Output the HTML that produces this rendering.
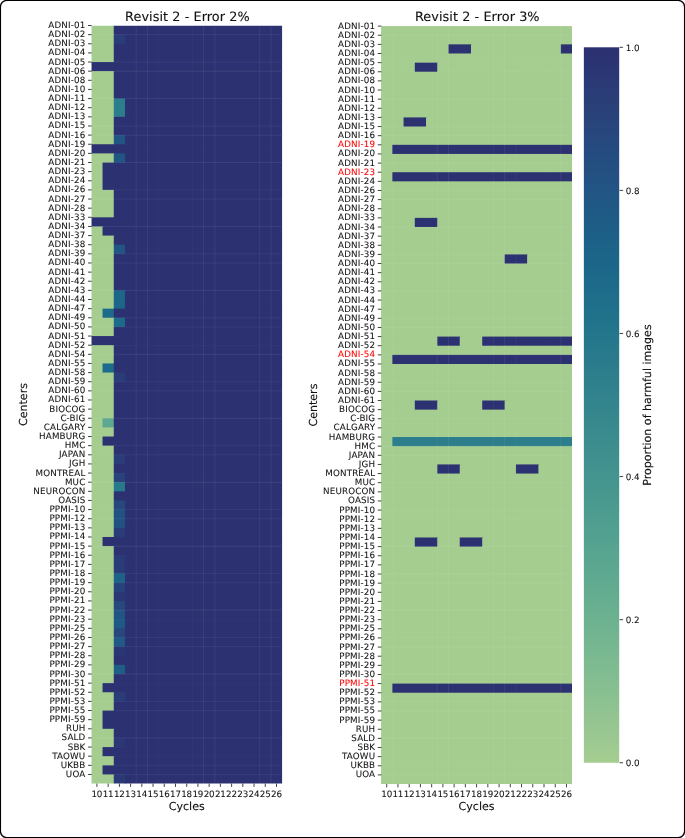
<!DOCTYPE html>
<html lang="en">
<head>
<meta charset="utf-8">
<title>Revisit 2 - harmful images heatmaps</title>
<style>
html,body{margin:0;padding:0;background:#ffffff;}
body{width:685px;height:838px;overflow:hidden;}
svg{display:block;}
svg{will-change:transform;}
text{fill:#111111;text-rendering:geometricPrecision;}
.tk line{stroke:#111111;stroke-width:0.8;}
.tl text{font-size:8.74px;letter-spacing:0.15px;}
.xt text{letter-spacing:-0.15px;}
.cbt text{letter-spacing:0;}
.tl text{stroke-width:0.06px;}
text{stroke:#111111;stroke-width:0.12px;}
.tl text.red{stroke:#ff0000;}
.lab{font-size:11.07px;}
.ttl{font-size:12.82px;letter-spacing:0.07px;}
.tl text.red{fill:#ff0000;}
</style>
</head>
<body>
<svg width="685" height="838" viewBox="0 0 685 838" font-family="'DejaVu Sans', 'Liberation Sans', sans-serif">
<rect x="0" y="0" width="685" height="838" fill="#ffffff"/>
<rect x="0.4" y="0.4" width="684.2" height="837.2" rx="6.5" ry="6.5" fill="#ffffff" stroke="#000000" stroke-width="1.3"/>
<clipPath id="hc1"><rect x="91.32" y="25.50" width="190.78" height="758.10"/></clipPath>
<g clip-path="url(#hc1)">
<rect x="91.32" y="25.50" width="23.14" height="9.83" fill="#a5cd90"/>
<rect x="113.76" y="25.50" width="169.04" height="9.83" fill="#2c3172"/>
<rect x="91.32" y="34.63" width="23.14" height="9.83" fill="#a5cd90"/>
<rect x="113.76" y="34.63" width="11.92" height="9.83" fill="#2a3d78"/>
<rect x="124.99" y="34.63" width="157.81" height="9.83" fill="#2c3172"/>
<rect x="91.32" y="43.77" width="23.14" height="18.97" fill="#a5cd90"/>
<rect x="113.76" y="43.77" width="169.04" height="18.97" fill="#2c3172"/>
<rect x="91.32" y="62.03" width="191.48" height="9.83" fill="#2c3172"/>
<rect x="91.32" y="71.17" width="23.14" height="28.10" fill="#a5cd90"/>
<rect x="113.76" y="71.17" width="169.04" height="28.10" fill="#2c3172"/>
<rect x="91.32" y="98.57" width="23.14" height="18.97" fill="#a5cd90"/>
<rect x="113.76" y="98.57" width="11.92" height="18.97" fill="#2c7e8c"/>
<rect x="124.99" y="98.57" width="157.81" height="18.97" fill="#2c3172"/>
<rect x="91.32" y="116.84" width="23.14" height="18.97" fill="#a5cd90"/>
<rect x="113.76" y="116.84" width="169.04" height="18.97" fill="#2c3172"/>
<rect x="91.32" y="135.10" width="23.14" height="9.83" fill="#a5cd90"/>
<rect x="113.76" y="135.10" width="11.92" height="9.83" fill="#215584"/>
<rect x="124.99" y="135.10" width="157.81" height="9.83" fill="#2c3172"/>
<rect x="91.32" y="144.24" width="191.48" height="9.83" fill="#2c3172"/>
<rect x="91.32" y="153.37" width="23.14" height="9.83" fill="#a5cd90"/>
<rect x="113.76" y="153.37" width="11.92" height="9.83" fill="#215584"/>
<rect x="124.99" y="153.37" width="157.81" height="9.83" fill="#2c3172"/>
<rect x="91.32" y="162.51" width="11.92" height="28.10" fill="#a5cd90"/>
<rect x="102.54" y="162.51" width="180.26" height="28.10" fill="#2c3172"/>
<rect x="91.32" y="189.91" width="23.14" height="28.10" fill="#a5cd90"/>
<rect x="113.76" y="189.91" width="169.04" height="28.10" fill="#2c3172"/>
<rect x="91.32" y="217.31" width="191.48" height="9.83" fill="#2c3172"/>
<rect x="91.32" y="226.44" width="11.92" height="9.83" fill="#a5cd90"/>
<rect x="102.54" y="226.44" width="180.26" height="9.83" fill="#2c3172"/>
<rect x="91.32" y="235.58" width="23.14" height="9.83" fill="#a5cd90"/>
<rect x="113.76" y="235.58" width="169.04" height="9.83" fill="#2c3172"/>
<rect x="91.32" y="244.71" width="23.14" height="9.83" fill="#a5cd90"/>
<rect x="113.76" y="244.71" width="11.92" height="9.83" fill="#215584"/>
<rect x="124.99" y="244.71" width="157.81" height="9.83" fill="#2c3172"/>
<rect x="91.32" y="253.84" width="23.14" height="37.23" fill="#a5cd90"/>
<rect x="113.76" y="253.84" width="169.04" height="37.23" fill="#2c3172"/>
<rect x="91.32" y="290.38" width="23.14" height="18.97" fill="#a5cd90"/>
<rect x="113.76" y="290.38" width="11.92" height="18.97" fill="#1c6689"/>
<rect x="124.99" y="290.38" width="157.81" height="18.97" fill="#2c3172"/>
<rect x="91.32" y="308.65" width="11.92" height="9.83" fill="#a5cd90"/>
<rect x="102.54" y="308.65" width="11.92" height="9.83" fill="#1d6b8a"/>
<rect x="113.76" y="308.65" width="169.04" height="9.83" fill="#2c3172"/>
<rect x="91.32" y="317.78" width="23.14" height="9.83" fill="#a5cd90"/>
<rect x="113.76" y="317.78" width="11.92" height="9.83" fill="#1d6b8a"/>
<rect x="124.99" y="317.78" width="157.81" height="9.83" fill="#2c3172"/>
<rect x="91.32" y="326.91" width="23.14" height="9.83" fill="#a5cd90"/>
<rect x="113.76" y="326.91" width="169.04" height="9.83" fill="#2c3172"/>
<rect x="91.32" y="336.05" width="191.48" height="9.83" fill="#2c3172"/>
<rect x="91.32" y="345.18" width="23.14" height="18.97" fill="#a5cd90"/>
<rect x="113.76" y="345.18" width="169.04" height="18.97" fill="#2c3172"/>
<rect x="91.32" y="363.45" width="11.92" height="9.83" fill="#a5cd90"/>
<rect x="102.54" y="363.45" width="11.92" height="9.83" fill="#1d6b8a"/>
<rect x="113.76" y="363.45" width="169.04" height="9.83" fill="#2c3172"/>
<rect x="91.32" y="372.58" width="23.14" height="9.83" fill="#a5cd90"/>
<rect x="113.76" y="372.58" width="11.92" height="9.83" fill="#2a3d78"/>
<rect x="124.99" y="372.58" width="157.81" height="9.83" fill="#2c3172"/>
<rect x="91.32" y="381.72" width="23.14" height="37.23" fill="#a5cd90"/>
<rect x="113.76" y="381.72" width="169.04" height="37.23" fill="#2c3172"/>
<rect x="91.32" y="418.25" width="11.92" height="9.83" fill="#a5cd90"/>
<rect x="102.54" y="418.25" width="11.92" height="9.83" fill="#5ca890"/>
<rect x="113.76" y="418.25" width="169.04" height="9.83" fill="#2c3172"/>
<rect x="91.32" y="427.38" width="23.14" height="9.83" fill="#a5cd90"/>
<rect x="113.76" y="427.38" width="169.04" height="9.83" fill="#2c3172"/>
<rect x="91.32" y="436.52" width="11.92" height="9.83" fill="#a5cd90"/>
<rect x="102.54" y="436.52" width="180.26" height="9.83" fill="#2c3172"/>
<rect x="91.32" y="445.65" width="23.14" height="9.83" fill="#a5cd90"/>
<rect x="113.76" y="445.65" width="169.04" height="9.83" fill="#2c3172"/>
<rect x="91.32" y="454.79" width="23.14" height="9.83" fill="#a5cd90"/>
<rect x="113.76" y="454.79" width="11.92" height="9.83" fill="#2a3d78"/>
<rect x="124.99" y="454.79" width="157.81" height="9.83" fill="#2c3172"/>
<rect x="91.32" y="463.92" width="23.14" height="9.83" fill="#a5cd90"/>
<rect x="113.76" y="463.92" width="169.04" height="9.83" fill="#2c3172"/>
<rect x="91.32" y="473.05" width="23.14" height="9.83" fill="#a5cd90"/>
<rect x="113.76" y="473.05" width="11.92" height="9.83" fill="#28437b"/>
<rect x="124.99" y="473.05" width="157.81" height="9.83" fill="#2c3172"/>
<rect x="91.32" y="482.19" width="23.14" height="9.83" fill="#a5cd90"/>
<rect x="113.76" y="482.19" width="11.92" height="9.83" fill="#27798c"/>
<rect x="124.99" y="482.19" width="157.81" height="9.83" fill="#2c3172"/>
<rect x="91.32" y="491.32" width="23.14" height="9.83" fill="#a5cd90"/>
<rect x="113.76" y="491.32" width="169.04" height="9.83" fill="#2c3172"/>
<rect x="91.32" y="500.45" width="23.14" height="9.83" fill="#a5cd90"/>
<rect x="113.76" y="500.45" width="11.92" height="9.83" fill="#27477d"/>
<rect x="124.99" y="500.45" width="157.81" height="9.83" fill="#2c3172"/>
<rect x="91.32" y="509.59" width="23.14" height="18.97" fill="#a5cd90"/>
<rect x="113.76" y="509.59" width="11.92" height="18.97" fill="#225282"/>
<rect x="124.99" y="509.59" width="157.81" height="18.97" fill="#2c3172"/>
<rect x="91.32" y="527.86" width="23.14" height="9.83" fill="#a5cd90"/>
<rect x="113.76" y="527.86" width="11.92" height="9.83" fill="#2a3d78"/>
<rect x="124.99" y="527.86" width="157.81" height="9.83" fill="#2c3172"/>
<rect x="91.32" y="536.99" width="11.92" height="9.83" fill="#a5cd90"/>
<rect x="102.54" y="536.99" width="180.26" height="9.83" fill="#2c3172"/>
<rect x="91.32" y="546.12" width="23.14" height="9.83" fill="#a5cd90"/>
<rect x="113.76" y="546.12" width="169.04" height="9.83" fill="#2c3172"/>
<rect x="91.32" y="555.26" width="23.14" height="18.97" fill="#a5cd90"/>
<rect x="113.76" y="555.26" width="11.92" height="18.97" fill="#2a3c77"/>
<rect x="124.99" y="555.26" width="157.81" height="18.97" fill="#2c3172"/>
<rect x="91.32" y="573.52" width="23.14" height="9.83" fill="#a5cd90"/>
<rect x="113.76" y="573.52" width="11.92" height="9.83" fill="#1d6388"/>
<rect x="124.99" y="573.52" width="157.81" height="9.83" fill="#2c3172"/>
<rect x="91.32" y="582.66" width="23.14" height="9.83" fill="#a5cd90"/>
<rect x="113.76" y="582.66" width="11.92" height="9.83" fill="#28437b"/>
<rect x="124.99" y="582.66" width="157.81" height="9.83" fill="#2c3172"/>
<rect x="91.32" y="591.79" width="23.14" height="9.83" fill="#a5cd90"/>
<rect x="113.76" y="591.79" width="11.92" height="9.83" fill="#2b3674"/>
<rect x="124.99" y="591.79" width="157.81" height="9.83" fill="#2c3172"/>
<rect x="91.32" y="600.93" width="23.14" height="9.83" fill="#a5cd90"/>
<rect x="113.76" y="600.93" width="11.92" height="9.83" fill="#27477d"/>
<rect x="124.99" y="600.93" width="157.81" height="9.83" fill="#2c3172"/>
<rect x="91.32" y="610.06" width="23.14" height="9.83" fill="#a5cd90"/>
<rect x="113.76" y="610.06" width="11.92" height="9.83" fill="#215584"/>
<rect x="124.99" y="610.06" width="157.81" height="9.83" fill="#2c3172"/>
<rect x="91.32" y="619.19" width="23.14" height="9.83" fill="#a5cd90"/>
<rect x="113.76" y="619.19" width="11.92" height="9.83" fill="#1f5a85"/>
<rect x="124.99" y="619.19" width="157.81" height="9.83" fill="#2c3172"/>
<rect x="91.32" y="628.33" width="23.14" height="9.83" fill="#a5cd90"/>
<rect x="113.76" y="628.33" width="11.92" height="9.83" fill="#27477d"/>
<rect x="124.99" y="628.33" width="157.81" height="9.83" fill="#2c3172"/>
<rect x="91.32" y="637.46" width="23.14" height="9.83" fill="#a5cd90"/>
<rect x="113.76" y="637.46" width="11.92" height="9.83" fill="#1f5985"/>
<rect x="124.99" y="637.46" width="157.81" height="9.83" fill="#2c3172"/>
<rect x="91.32" y="646.59" width="23.14" height="9.83" fill="#a5cd90"/>
<rect x="113.76" y="646.59" width="11.92" height="9.83" fill="#2b3674"/>
<rect x="124.99" y="646.59" width="157.81" height="9.83" fill="#2c3172"/>
<rect x="91.32" y="655.73" width="23.14" height="9.83" fill="#a5cd90"/>
<rect x="113.76" y="655.73" width="169.04" height="9.83" fill="#2c3172"/>
<rect x="91.32" y="664.86" width="23.14" height="9.83" fill="#a5cd90"/>
<rect x="113.76" y="664.86" width="11.92" height="9.83" fill="#1e5d86"/>
<rect x="124.99" y="664.86" width="157.81" height="9.83" fill="#2c3172"/>
<rect x="91.32" y="674.00" width="23.14" height="9.83" fill="#a5cd90"/>
<rect x="113.76" y="674.00" width="169.04" height="9.83" fill="#2c3172"/>
<rect x="91.32" y="683.13" width="11.92" height="9.83" fill="#a5cd90"/>
<rect x="102.54" y="683.13" width="180.26" height="9.83" fill="#2c3172"/>
<rect x="91.32" y="692.26" width="23.14" height="9.83" fill="#a5cd90"/>
<rect x="113.76" y="692.26" width="11.92" height="9.83" fill="#2a3d78"/>
<rect x="124.99" y="692.26" width="157.81" height="9.83" fill="#2c3172"/>
<rect x="91.32" y="701.40" width="23.14" height="9.83" fill="#a5cd90"/>
<rect x="113.76" y="701.40" width="169.04" height="9.83" fill="#2c3172"/>
<rect x="91.32" y="710.53" width="11.92" height="18.97" fill="#a5cd90"/>
<rect x="102.54" y="710.53" width="180.26" height="18.97" fill="#2c3172"/>
<rect x="91.32" y="728.80" width="23.14" height="9.83" fill="#a5cd90"/>
<rect x="113.76" y="728.80" width="169.04" height="9.83" fill="#2c3172"/>
<rect x="91.32" y="737.93" width="23.14" height="9.83" fill="#a5cd90"/>
<rect x="113.76" y="737.93" width="11.92" height="9.83" fill="#2b3875"/>
<rect x="124.99" y="737.93" width="157.81" height="9.83" fill="#2c3172"/>
<rect x="91.32" y="747.07" width="11.92" height="9.83" fill="#a5cd90"/>
<rect x="102.54" y="747.07" width="180.26" height="9.83" fill="#2c3172"/>
<rect x="91.32" y="756.20" width="23.14" height="9.83" fill="#a5cd90"/>
<rect x="113.76" y="756.20" width="169.04" height="9.83" fill="#2c3172"/>
<rect x="91.32" y="765.33" width="11.92" height="9.83" fill="#a5cd90"/>
<rect x="102.54" y="765.33" width="180.26" height="9.83" fill="#2c3172"/>
<rect x="91.32" y="774.47" width="23.14" height="9.83" fill="#a5cd90"/>
<rect x="113.76" y="774.47" width="11.92" height="9.83" fill="#2b3a76"/>
<rect x="124.99" y="774.47" width="157.81" height="9.83" fill="#2c3172"/>
</g>
<g stroke="#ffffff" stroke-width="1">
<line x1="102.54" y1="25.50" x2="102.54" y2="783.60" stroke-opacity="0.009"/>
<line x1="113.76" y1="25.50" x2="113.76" y2="783.60" stroke-opacity="0.009"/>
<line x1="124.99" y1="25.50" x2="124.99" y2="783.60" stroke-opacity="0.009"/>
<line x1="136.21" y1="25.50" x2="136.21" y2="783.60" stroke-opacity="0.059"/>
<line x1="147.43" y1="25.50" x2="147.43" y2="783.60" stroke-opacity="0.073"/>
<line x1="158.65" y1="25.50" x2="158.65" y2="783.60" stroke-opacity="0.030"/>
<line x1="169.88" y1="25.50" x2="169.88" y2="783.60" stroke-opacity="0.009"/>
<line x1="181.10" y1="25.50" x2="181.10" y2="783.60" stroke-opacity="0.009"/>
<line x1="192.32" y1="25.50" x2="192.32" y2="783.60" stroke-opacity="0.029"/>
<line x1="203.54" y1="25.50" x2="203.54" y2="783.60" stroke-opacity="0.073"/>
<line x1="214.77" y1="25.50" x2="214.77" y2="783.60" stroke-opacity="0.059"/>
<line x1="225.99" y1="25.50" x2="225.99" y2="783.60" stroke-opacity="0.009"/>
<line x1="237.21" y1="25.50" x2="237.21" y2="783.60" stroke-opacity="0.009"/>
<line x1="248.43" y1="25.50" x2="248.43" y2="783.60" stroke-opacity="0.009"/>
<line x1="259.66" y1="25.50" x2="259.66" y2="783.60" stroke-opacity="0.059"/>
<line x1="270.88" y1="25.50" x2="270.88" y2="783.60" stroke-opacity="0.073"/>
<line x1="91.32" y1="34.63" x2="282.10" y2="34.63" stroke-opacity="0.075"/>
<line x1="91.32" y1="43.77" x2="282.10" y2="43.77" stroke-opacity="0.009"/>
<line x1="91.32" y1="52.90" x2="282.10" y2="52.90" stroke-opacity="0.009"/>
<line x1="91.32" y1="62.03" x2="282.10" y2="62.03" stroke-opacity="0.057"/>
<line x1="91.32" y1="71.17" x2="282.10" y2="71.17" stroke-opacity="0.057"/>
<line x1="91.32" y1="80.30" x2="282.10" y2="80.30" stroke-opacity="0.009"/>
<line x1="91.32" y1="89.44" x2="282.10" y2="89.44" stroke-opacity="0.009"/>
<line x1="91.32" y1="98.57" x2="282.10" y2="98.57" stroke-opacity="0.075"/>
<line x1="91.32" y1="107.70" x2="282.10" y2="107.70" stroke-opacity="0.009"/>
<line x1="91.32" y1="116.84" x2="282.10" y2="116.84" stroke-opacity="0.009"/>
<line x1="91.32" y1="125.97" x2="282.10" y2="125.97" stroke-opacity="0.057"/>
<line x1="91.32" y1="135.10" x2="282.10" y2="135.10" stroke-opacity="0.057"/>
<line x1="91.32" y1="144.24" x2="282.10" y2="144.24" stroke-opacity="0.009"/>
<line x1="91.32" y1="153.37" x2="282.10" y2="153.37" stroke-opacity="0.009"/>
<line x1="91.32" y1="162.51" x2="282.10" y2="162.51" stroke-opacity="0.075"/>
<line x1="91.32" y1="171.64" x2="282.10" y2="171.64" stroke-opacity="0.009"/>
<line x1="91.32" y1="180.77" x2="282.10" y2="180.77" stroke-opacity="0.009"/>
<line x1="91.32" y1="189.91" x2="282.10" y2="189.91" stroke-opacity="0.057"/>
<line x1="91.32" y1="199.04" x2="282.10" y2="199.04" stroke-opacity="0.057"/>
<line x1="91.32" y1="208.17" x2="282.10" y2="208.17" stroke-opacity="0.009"/>
<line x1="91.32" y1="217.31" x2="282.10" y2="217.31" stroke-opacity="0.009"/>
<line x1="91.32" y1="226.44" x2="282.10" y2="226.44" stroke-opacity="0.075"/>
<line x1="91.32" y1="235.58" x2="282.10" y2="235.58" stroke-opacity="0.009"/>
<line x1="91.32" y1="244.71" x2="282.10" y2="244.71" stroke-opacity="0.009"/>
<line x1="91.32" y1="253.84" x2="282.10" y2="253.84" stroke-opacity="0.057"/>
<line x1="91.32" y1="262.98" x2="282.10" y2="262.98" stroke-opacity="0.057"/>
<line x1="91.32" y1="272.11" x2="282.10" y2="272.11" stroke-opacity="0.009"/>
<line x1="91.32" y1="281.24" x2="282.10" y2="281.24" stroke-opacity="0.009"/>
<line x1="91.32" y1="290.38" x2="282.10" y2="290.38" stroke-opacity="0.075"/>
<line x1="91.32" y1="299.51" x2="282.10" y2="299.51" stroke-opacity="0.009"/>
<line x1="91.32" y1="308.65" x2="282.10" y2="308.65" stroke-opacity="0.009"/>
<line x1="91.32" y1="317.78" x2="282.10" y2="317.78" stroke-opacity="0.057"/>
<line x1="91.32" y1="326.91" x2="282.10" y2="326.91" stroke-opacity="0.057"/>
<line x1="91.32" y1="336.05" x2="282.10" y2="336.05" stroke-opacity="0.009"/>
<line x1="91.32" y1="345.18" x2="282.10" y2="345.18" stroke-opacity="0.009"/>
<line x1="91.32" y1="354.31" x2="282.10" y2="354.31" stroke-opacity="0.075"/>
<line x1="91.32" y1="363.45" x2="282.10" y2="363.45" stroke-opacity="0.009"/>
<line x1="91.32" y1="372.58" x2="282.10" y2="372.58" stroke-opacity="0.009"/>
<line x1="91.32" y1="381.72" x2="282.10" y2="381.72" stroke-opacity="0.057"/>
<line x1="91.32" y1="390.85" x2="282.10" y2="390.85" stroke-opacity="0.057"/>
<line x1="91.32" y1="399.98" x2="282.10" y2="399.98" stroke-opacity="0.009"/>
<line x1="91.32" y1="409.12" x2="282.10" y2="409.12" stroke-opacity="0.009"/>
<line x1="91.32" y1="418.25" x2="282.10" y2="418.25" stroke-opacity="0.075"/>
<line x1="91.32" y1="427.38" x2="282.10" y2="427.38" stroke-opacity="0.009"/>
<line x1="91.32" y1="436.52" x2="282.10" y2="436.52" stroke-opacity="0.009"/>
<line x1="91.32" y1="445.65" x2="282.10" y2="445.65" stroke-opacity="0.057"/>
<line x1="91.32" y1="454.79" x2="282.10" y2="454.79" stroke-opacity="0.057"/>
<line x1="91.32" y1="463.92" x2="282.10" y2="463.92" stroke-opacity="0.009"/>
<line x1="91.32" y1="473.05" x2="282.10" y2="473.05" stroke-opacity="0.009"/>
<line x1="91.32" y1="482.19" x2="282.10" y2="482.19" stroke-opacity="0.075"/>
<line x1="91.32" y1="491.32" x2="282.10" y2="491.32" stroke-opacity="0.009"/>
<line x1="91.32" y1="500.45" x2="282.10" y2="500.45" stroke-opacity="0.009"/>
<line x1="91.32" y1="509.59" x2="282.10" y2="509.59" stroke-opacity="0.057"/>
<line x1="91.32" y1="518.72" x2="282.10" y2="518.72" stroke-opacity="0.057"/>
<line x1="91.32" y1="527.86" x2="282.10" y2="527.86" stroke-opacity="0.009"/>
<line x1="91.32" y1="536.99" x2="282.10" y2="536.99" stroke-opacity="0.009"/>
<line x1="91.32" y1="546.12" x2="282.10" y2="546.12" stroke-opacity="0.075"/>
<line x1="91.32" y1="555.26" x2="282.10" y2="555.26" stroke-opacity="0.009"/>
<line x1="91.32" y1="564.39" x2="282.10" y2="564.39" stroke-opacity="0.009"/>
<line x1="91.32" y1="573.52" x2="282.10" y2="573.52" stroke-opacity="0.057"/>
<line x1="91.32" y1="582.66" x2="282.10" y2="582.66" stroke-opacity="0.057"/>
<line x1="91.32" y1="591.79" x2="282.10" y2="591.79" stroke-opacity="0.009"/>
<line x1="91.32" y1="600.93" x2="282.10" y2="600.93" stroke-opacity="0.009"/>
<line x1="91.32" y1="610.06" x2="282.10" y2="610.06" stroke-opacity="0.075"/>
<line x1="91.32" y1="619.19" x2="282.10" y2="619.19" stroke-opacity="0.009"/>
<line x1="91.32" y1="628.33" x2="282.10" y2="628.33" stroke-opacity="0.009"/>
<line x1="91.32" y1="637.46" x2="282.10" y2="637.46" stroke-opacity="0.057"/>
<line x1="91.32" y1="646.59" x2="282.10" y2="646.59" stroke-opacity="0.057"/>
<line x1="91.32" y1="655.73" x2="282.10" y2="655.73" stroke-opacity="0.009"/>
<line x1="91.32" y1="664.86" x2="282.10" y2="664.86" stroke-opacity="0.009"/>
<line x1="91.32" y1="674.00" x2="282.10" y2="674.00" stroke-opacity="0.075"/>
<line x1="91.32" y1="683.13" x2="282.10" y2="683.13" stroke-opacity="0.009"/>
<line x1="91.32" y1="692.26" x2="282.10" y2="692.26" stroke-opacity="0.009"/>
<line x1="91.32" y1="701.40" x2="282.10" y2="701.40" stroke-opacity="0.057"/>
<line x1="91.32" y1="710.53" x2="282.10" y2="710.53" stroke-opacity="0.057"/>
<line x1="91.32" y1="719.66" x2="282.10" y2="719.66" stroke-opacity="0.009"/>
<line x1="91.32" y1="728.80" x2="282.10" y2="728.80" stroke-opacity="0.009"/>
<line x1="91.32" y1="737.93" x2="282.10" y2="737.93" stroke-opacity="0.075"/>
<line x1="91.32" y1="747.07" x2="282.10" y2="747.07" stroke-opacity="0.009"/>
<line x1="91.32" y1="756.20" x2="282.10" y2="756.20" stroke-opacity="0.009"/>
<line x1="91.32" y1="765.33" x2="282.10" y2="765.33" stroke-opacity="0.057"/>
<line x1="91.32" y1="774.47" x2="282.10" y2="774.47" stroke-opacity="0.057"/>
</g>
<g class="tk">
<line x1="88.02" y1="25.50" x2="91.62" y2="25.50"/>
<line x1="88.02" y1="34.63" x2="91.62" y2="34.63"/>
<line x1="88.02" y1="43.77" x2="91.62" y2="43.77"/>
<line x1="88.02" y1="52.90" x2="91.62" y2="52.90"/>
<line x1="88.02" y1="62.03" x2="91.62" y2="62.03"/>
<line x1="88.02" y1="71.17" x2="91.62" y2="71.17"/>
<line x1="88.02" y1="80.30" x2="91.62" y2="80.30"/>
<line x1="88.02" y1="89.44" x2="91.62" y2="89.44"/>
<line x1="88.02" y1="98.57" x2="91.62" y2="98.57"/>
<line x1="88.02" y1="107.70" x2="91.62" y2="107.70"/>
<line x1="88.02" y1="116.84" x2="91.62" y2="116.84"/>
<line x1="88.02" y1="125.97" x2="91.62" y2="125.97"/>
<line x1="88.02" y1="135.10" x2="91.62" y2="135.10"/>
<line x1="88.02" y1="144.24" x2="91.62" y2="144.24"/>
<line x1="88.02" y1="153.37" x2="91.62" y2="153.37"/>
<line x1="88.02" y1="162.51" x2="91.62" y2="162.51"/>
<line x1="88.02" y1="171.64" x2="91.62" y2="171.64"/>
<line x1="88.02" y1="180.77" x2="91.62" y2="180.77"/>
<line x1="88.02" y1="189.91" x2="91.62" y2="189.91"/>
<line x1="88.02" y1="199.04" x2="91.62" y2="199.04"/>
<line x1="88.02" y1="208.17" x2="91.62" y2="208.17"/>
<line x1="88.02" y1="217.31" x2="91.62" y2="217.31"/>
<line x1="88.02" y1="226.44" x2="91.62" y2="226.44"/>
<line x1="88.02" y1="235.58" x2="91.62" y2="235.58"/>
<line x1="88.02" y1="244.71" x2="91.62" y2="244.71"/>
<line x1="88.02" y1="253.84" x2="91.62" y2="253.84"/>
<line x1="88.02" y1="262.98" x2="91.62" y2="262.98"/>
<line x1="88.02" y1="272.11" x2="91.62" y2="272.11"/>
<line x1="88.02" y1="281.24" x2="91.62" y2="281.24"/>
<line x1="88.02" y1="290.38" x2="91.62" y2="290.38"/>
<line x1="88.02" y1="299.51" x2="91.62" y2="299.51"/>
<line x1="88.02" y1="308.65" x2="91.62" y2="308.65"/>
<line x1="88.02" y1="317.78" x2="91.62" y2="317.78"/>
<line x1="88.02" y1="326.91" x2="91.62" y2="326.91"/>
<line x1="88.02" y1="336.05" x2="91.62" y2="336.05"/>
<line x1="88.02" y1="345.18" x2="91.62" y2="345.18"/>
<line x1="88.02" y1="354.31" x2="91.62" y2="354.31"/>
<line x1="88.02" y1="363.45" x2="91.62" y2="363.45"/>
<line x1="88.02" y1="372.58" x2="91.62" y2="372.58"/>
<line x1="88.02" y1="381.72" x2="91.62" y2="381.72"/>
<line x1="88.02" y1="390.85" x2="91.62" y2="390.85"/>
<line x1="88.02" y1="399.98" x2="91.62" y2="399.98"/>
<line x1="88.02" y1="409.12" x2="91.62" y2="409.12"/>
<line x1="88.02" y1="418.25" x2="91.62" y2="418.25"/>
<line x1="88.02" y1="427.38" x2="91.62" y2="427.38"/>
<line x1="88.02" y1="436.52" x2="91.62" y2="436.52"/>
<line x1="88.02" y1="445.65" x2="91.62" y2="445.65"/>
<line x1="88.02" y1="454.79" x2="91.62" y2="454.79"/>
<line x1="88.02" y1="463.92" x2="91.62" y2="463.92"/>
<line x1="88.02" y1="473.05" x2="91.62" y2="473.05"/>
<line x1="88.02" y1="482.19" x2="91.62" y2="482.19"/>
<line x1="88.02" y1="491.32" x2="91.62" y2="491.32"/>
<line x1="88.02" y1="500.45" x2="91.62" y2="500.45"/>
<line x1="88.02" y1="509.59" x2="91.62" y2="509.59"/>
<line x1="88.02" y1="518.72" x2="91.62" y2="518.72"/>
<line x1="88.02" y1="527.86" x2="91.62" y2="527.86"/>
<line x1="88.02" y1="536.99" x2="91.62" y2="536.99"/>
<line x1="88.02" y1="546.12" x2="91.62" y2="546.12"/>
<line x1="88.02" y1="555.26" x2="91.62" y2="555.26"/>
<line x1="88.02" y1="564.39" x2="91.62" y2="564.39"/>
<line x1="88.02" y1="573.52" x2="91.62" y2="573.52"/>
<line x1="88.02" y1="582.66" x2="91.62" y2="582.66"/>
<line x1="88.02" y1="591.79" x2="91.62" y2="591.79"/>
<line x1="88.02" y1="600.93" x2="91.62" y2="600.93"/>
<line x1="88.02" y1="610.06" x2="91.62" y2="610.06"/>
<line x1="88.02" y1="619.19" x2="91.62" y2="619.19"/>
<line x1="88.02" y1="628.33" x2="91.62" y2="628.33"/>
<line x1="88.02" y1="637.46" x2="91.62" y2="637.46"/>
<line x1="88.02" y1="646.59" x2="91.62" y2="646.59"/>
<line x1="88.02" y1="655.73" x2="91.62" y2="655.73"/>
<line x1="88.02" y1="664.86" x2="91.62" y2="664.86"/>
<line x1="88.02" y1="674.00" x2="91.62" y2="674.00"/>
<line x1="88.02" y1="683.13" x2="91.62" y2="683.13"/>
<line x1="88.02" y1="692.26" x2="91.62" y2="692.26"/>
<line x1="88.02" y1="701.40" x2="91.62" y2="701.40"/>
<line x1="88.02" y1="710.53" x2="91.62" y2="710.53"/>
<line x1="88.02" y1="719.66" x2="91.62" y2="719.66"/>
<line x1="88.02" y1="728.80" x2="91.62" y2="728.80"/>
<line x1="88.02" y1="737.93" x2="91.62" y2="737.93"/>
<line x1="88.02" y1="747.07" x2="91.62" y2="747.07"/>
<line x1="88.02" y1="756.20" x2="91.62" y2="756.20"/>
<line x1="88.02" y1="765.33" x2="91.62" y2="765.33"/>
<line x1="88.02" y1="774.47" x2="91.62" y2="774.47"/>
<line x1="96.93" y1="783.60" x2="96.93" y2="786.90"/>
<line x1="108.15" y1="783.60" x2="108.15" y2="786.90"/>
<line x1="119.38" y1="783.60" x2="119.38" y2="786.90"/>
<line x1="130.60" y1="783.60" x2="130.60" y2="786.90"/>
<line x1="141.82" y1="783.60" x2="141.82" y2="786.90"/>
<line x1="153.04" y1="783.60" x2="153.04" y2="786.90"/>
<line x1="164.27" y1="783.60" x2="164.27" y2="786.90"/>
<line x1="175.49" y1="783.60" x2="175.49" y2="786.90"/>
<line x1="186.71" y1="783.60" x2="186.71" y2="786.90"/>
<line x1="197.93" y1="783.60" x2="197.93" y2="786.90"/>
<line x1="209.15" y1="783.60" x2="209.15" y2="786.90"/>
<line x1="220.38" y1="783.60" x2="220.38" y2="786.90"/>
<line x1="231.60" y1="783.60" x2="231.60" y2="786.90"/>
<line x1="242.82" y1="783.60" x2="242.82" y2="786.90"/>
<line x1="254.04" y1="783.60" x2="254.04" y2="786.90"/>
<line x1="265.27" y1="783.60" x2="265.27" y2="786.90"/>
<line x1="276.49" y1="783.60" x2="276.49" y2="786.90"/>
</g>
<g class="tl" text-anchor="end">
<text x="85.42" y="28.00">ADNI-01</text>
<text x="85.42" y="37.13">ADNI-02</text>
<text x="85.42" y="46.27">ADNI-03</text>
<text x="85.42" y="55.40">ADNI-04</text>
<text x="85.42" y="64.53">ADNI-05</text>
<text x="85.42" y="73.67">ADNI-06</text>
<text x="85.42" y="82.80">ADNI-08</text>
<text x="85.42" y="91.94">ADNI-10</text>
<text x="85.42" y="101.07">ADNI-11</text>
<text x="85.42" y="110.20">ADNI-12</text>
<text x="85.42" y="119.34">ADNI-13</text>
<text x="85.42" y="128.47">ADNI-15</text>
<text x="85.42" y="137.60">ADNI-16</text>
<text x="85.42" y="146.74">ADNI-19</text>
<text x="85.42" y="155.87">ADNI-20</text>
<text x="85.42" y="165.01">ADNI-21</text>
<text x="85.42" y="174.14">ADNI-23</text>
<text x="85.42" y="183.27">ADNI-24</text>
<text x="85.42" y="192.41">ADNI-26</text>
<text x="85.42" y="201.54">ADNI-27</text>
<text x="85.42" y="210.67">ADNI-28</text>
<text x="85.42" y="219.81">ADNI-33</text>
<text x="85.42" y="228.94">ADNI-34</text>
<text x="85.42" y="238.08">ADNI-37</text>
<text x="85.42" y="247.21">ADNI-38</text>
<text x="85.42" y="256.34">ADNI-39</text>
<text x="85.42" y="265.48">ADNI-40</text>
<text x="85.42" y="274.61">ADNI-41</text>
<text x="85.42" y="283.74">ADNI-42</text>
<text x="85.42" y="292.88">ADNI-43</text>
<text x="85.42" y="302.01">ADNI-44</text>
<text x="85.42" y="311.15">ADNI-47</text>
<text x="85.42" y="320.28">ADNI-49</text>
<text x="85.42" y="329.41">ADNI-50</text>
<text x="85.42" y="338.55">ADNI-51</text>
<text x="85.42" y="347.68">ADNI-52</text>
<text x="85.42" y="356.81">ADNI-54</text>
<text x="85.42" y="365.95">ADNI-55</text>
<text x="85.42" y="375.08">ADNI-58</text>
<text x="85.42" y="384.22">ADNI-59</text>
<text x="85.42" y="393.35">ADNI-60</text>
<text x="85.42" y="402.48">ADNI-61</text>
<text x="85.42" y="411.62">BIOCOG</text>
<text x="85.42" y="420.75">C-BIG</text>
<text x="85.42" y="429.88">CALGARY</text>
<text x="85.42" y="439.02">HAMBURG</text>
<text x="85.42" y="448.15">HMC</text>
<text x="85.42" y="457.29">JAPAN</text>
<text x="85.42" y="466.42">JGH</text>
<text x="85.42" y="475.55">MONTREAL</text>
<text x="85.42" y="484.69">MUC</text>
<text x="85.42" y="493.82">NEUROCON</text>
<text x="85.42" y="502.95">OASIS</text>
<text x="85.42" y="512.09">PPMI-10</text>
<text x="85.42" y="521.22">PPMI-12</text>
<text x="85.42" y="530.36">PPMI-13</text>
<text x="85.42" y="539.49">PPMI-14</text>
<text x="85.42" y="548.62">PPMI-15</text>
<text x="85.42" y="557.76">PPMI-16</text>
<text x="85.42" y="566.89">PPMI-17</text>
<text x="85.42" y="576.02">PPMI-18</text>
<text x="85.42" y="585.16">PPMI-19</text>
<text x="85.42" y="594.29">PPMI-20</text>
<text x="85.42" y="603.43">PPMI-21</text>
<text x="85.42" y="612.56">PPMI-22</text>
<text x="85.42" y="621.69">PPMI-23</text>
<text x="85.42" y="630.83">PPMI-25</text>
<text x="85.42" y="639.96">PPMI-26</text>
<text x="85.42" y="649.09">PPMI-27</text>
<text x="85.42" y="658.23">PPMI-28</text>
<text x="85.42" y="667.36">PPMI-29</text>
<text x="85.42" y="676.50">PPMI-30</text>
<text x="85.42" y="685.63">PPMI-51</text>
<text x="85.42" y="694.76">PPMI-52</text>
<text x="85.42" y="703.90">PPMI-53</text>
<text x="85.42" y="713.03">PPMI-55</text>
<text x="85.42" y="722.16">PPMI-59</text>
<text x="85.42" y="731.30">RUH</text>
<text x="85.42" y="740.43">SALD</text>
<text x="85.42" y="749.57">SBK</text>
<text x="85.42" y="758.70">TAOWU</text>
<text x="85.42" y="767.83">UKBB</text>
<text x="85.42" y="776.97">UOA</text>
</g>
<g class="tl xt" text-anchor="middle">
<text x="96.85" y="796.80">10</text>
<text x="108.07" y="796.80">11</text>
<text x="119.30" y="796.80">12</text>
<text x="130.52" y="796.80">13</text>
<text x="141.74" y="796.80">14</text>
<text x="152.96" y="796.80">15</text>
<text x="164.19" y="796.80">16</text>
<text x="175.41" y="796.80">17</text>
<text x="186.63" y="796.80">18</text>
<text x="197.85" y="796.80">19</text>
<text x="209.07" y="796.80">20</text>
<text x="220.30" y="796.80">21</text>
<text x="231.52" y="796.80">22</text>
<text x="242.74" y="796.80">23</text>
<text x="253.96" y="796.80">24</text>
<text x="265.19" y="796.80">25</text>
<text x="276.41" y="796.80">26</text>
</g>
<text class="lab" x="186.71" y="809.65" text-anchor="middle">Cycles</text>
<text class="ttl" x="187.41" y="20.60" text-anchor="middle">Revisit 2 - Error 2%</text>
<text class="lab" transform="translate(27.12 404.55) rotate(-90)" text-anchor="middle">Centers</text>
<clipPath id="hc2"><rect x="381.10" y="26.10" width="191.00" height="757.95"/></clipPath>
<g clip-path="url(#hc2)">
<rect x="381.10" y="26.10" width="191.70" height="18.96" fill="#a5cd90"/>
<rect x="381.10" y="44.36" width="68.11" height="9.83" fill="#a5cd90"/>
<rect x="448.51" y="44.36" width="23.17" height="9.83" fill="#2c3172"/>
<rect x="470.98" y="44.36" width="90.58" height="9.83" fill="#a5cd90"/>
<rect x="560.86" y="44.36" width="11.94" height="9.83" fill="#2c3172"/>
<rect x="381.10" y="53.50" width="191.70" height="9.83" fill="#a5cd90"/>
<rect x="381.10" y="62.63" width="34.41" height="9.83" fill="#a5cd90"/>
<rect x="414.81" y="62.63" width="23.17" height="9.83" fill="#2c3172"/>
<rect x="437.28" y="62.63" width="135.52" height="9.83" fill="#a5cd90"/>
<rect x="381.10" y="71.76" width="191.70" height="46.36" fill="#a5cd90"/>
<rect x="381.10" y="117.42" width="23.17" height="9.83" fill="#a5cd90"/>
<rect x="403.57" y="117.42" width="23.17" height="9.83" fill="#2c3172"/>
<rect x="426.04" y="117.42" width="146.76" height="9.83" fill="#a5cd90"/>
<rect x="381.10" y="126.55" width="191.70" height="18.96" fill="#a5cd90"/>
<rect x="381.10" y="144.82" width="11.94" height="9.83" fill="#a5cd90"/>
<rect x="392.34" y="144.82" width="180.46" height="9.83" fill="#2c3172"/>
<rect x="381.10" y="153.95" width="191.70" height="18.96" fill="#a5cd90"/>
<rect x="381.10" y="172.21" width="11.94" height="9.83" fill="#a5cd90"/>
<rect x="392.34" y="172.21" width="180.46" height="9.83" fill="#2c3172"/>
<rect x="381.10" y="181.34" width="191.70" height="37.23" fill="#a5cd90"/>
<rect x="381.10" y="217.87" width="34.41" height="9.83" fill="#a5cd90"/>
<rect x="414.81" y="217.87" width="23.17" height="9.83" fill="#2c3172"/>
<rect x="437.28" y="217.87" width="135.52" height="9.83" fill="#a5cd90"/>
<rect x="381.10" y="227.00" width="191.70" height="28.10" fill="#a5cd90"/>
<rect x="381.10" y="254.40" width="124.29" height="9.83" fill="#a5cd90"/>
<rect x="504.69" y="254.40" width="23.17" height="9.83" fill="#2c3172"/>
<rect x="527.16" y="254.40" width="45.64" height="9.83" fill="#a5cd90"/>
<rect x="381.10" y="263.53" width="191.70" height="73.76" fill="#a5cd90"/>
<rect x="381.10" y="336.59" width="56.88" height="9.83" fill="#a5cd90"/>
<rect x="437.28" y="336.59" width="23.17" height="9.83" fill="#2c3172"/>
<rect x="459.75" y="336.59" width="23.17" height="9.83" fill="#a5cd90"/>
<rect x="482.22" y="336.59" width="90.58" height="9.83" fill="#2c3172"/>
<rect x="381.10" y="345.72" width="191.70" height="9.83" fill="#a5cd90"/>
<rect x="381.10" y="354.85" width="11.94" height="9.83" fill="#a5cd90"/>
<rect x="392.34" y="354.85" width="180.46" height="9.83" fill="#2c3172"/>
<rect x="381.10" y="363.98" width="191.70" height="37.23" fill="#a5cd90"/>
<rect x="381.10" y="400.51" width="34.41" height="9.83" fill="#a5cd90"/>
<rect x="414.81" y="400.51" width="23.17" height="9.83" fill="#2c3172"/>
<rect x="437.28" y="400.51" width="45.64" height="9.83" fill="#a5cd90"/>
<rect x="482.22" y="400.51" width="23.17" height="9.83" fill="#2c3172"/>
<rect x="504.69" y="400.51" width="68.11" height="9.83" fill="#a5cd90"/>
<rect x="381.10" y="409.64" width="191.70" height="28.10" fill="#a5cd90"/>
<rect x="381.10" y="437.04" width="11.94" height="9.83" fill="#a5cd90"/>
<rect x="392.34" y="437.04" width="180.46" height="9.83" fill="#2c7e8c"/>
<rect x="381.10" y="446.17" width="191.70" height="18.96" fill="#a5cd90"/>
<rect x="381.10" y="464.43" width="56.88" height="9.83" fill="#a5cd90"/>
<rect x="437.28" y="464.43" width="23.17" height="9.83" fill="#2c3172"/>
<rect x="459.75" y="464.43" width="56.88" height="9.83" fill="#a5cd90"/>
<rect x="515.92" y="464.43" width="23.17" height="9.83" fill="#2c3172"/>
<rect x="538.39" y="464.43" width="34.41" height="9.83" fill="#a5cd90"/>
<rect x="381.10" y="473.56" width="191.70" height="64.62" fill="#a5cd90"/>
<rect x="381.10" y="537.49" width="34.41" height="9.83" fill="#a5cd90"/>
<rect x="414.81" y="537.49" width="23.17" height="9.83" fill="#2c3172"/>
<rect x="437.28" y="537.49" width="23.17" height="9.83" fill="#a5cd90"/>
<rect x="459.75" y="537.49" width="23.17" height="9.83" fill="#2c3172"/>
<rect x="482.22" y="537.49" width="90.58" height="9.83" fill="#a5cd90"/>
<rect x="381.10" y="546.62" width="191.70" height="137.68" fill="#a5cd90"/>
<rect x="381.10" y="683.60" width="11.94" height="9.83" fill="#a5cd90"/>
<rect x="392.34" y="683.60" width="180.46" height="9.83" fill="#2c3172"/>
<rect x="381.10" y="692.73" width="191.70" height="92.02" fill="#a5cd90"/>
</g>
<g stroke="#ffffff" stroke-width="1">
<line x1="392.34" y1="26.10" x2="392.34" y2="784.05" stroke-opacity="0.043"/>
<line x1="403.57" y1="26.10" x2="403.57" y2="784.05" stroke-opacity="0.009"/>
<line x1="414.81" y1="26.10" x2="414.81" y2="784.05" stroke-opacity="0.009"/>
<line x1="426.04" y1="26.10" x2="426.04" y2="784.05" stroke-opacity="0.014"/>
<line x1="437.28" y1="26.10" x2="437.28" y2="784.05" stroke-opacity="0.069"/>
<line x1="448.51" y1="26.10" x2="448.51" y2="784.05" stroke-opacity="0.066"/>
<line x1="459.75" y1="26.10" x2="459.75" y2="784.05" stroke-opacity="0.009"/>
<line x1="470.98" y1="26.10" x2="470.98" y2="784.05" stroke-opacity="0.009"/>
<line x1="482.22" y1="26.10" x2="482.22" y2="784.05" stroke-opacity="0.009"/>
<line x1="493.45" y1="26.10" x2="493.45" y2="784.05" stroke-opacity="0.049"/>
<line x1="504.69" y1="26.10" x2="504.69" y2="784.05" stroke-opacity="0.075"/>
<line x1="515.92" y1="26.10" x2="515.92" y2="784.05" stroke-opacity="0.043"/>
<line x1="527.16" y1="26.10" x2="527.16" y2="784.05" stroke-opacity="0.009"/>
<line x1="538.39" y1="26.10" x2="538.39" y2="784.05" stroke-opacity="0.009"/>
<line x1="549.63" y1="26.10" x2="549.63" y2="784.05" stroke-opacity="0.014"/>
<line x1="560.86" y1="26.10" x2="560.86" y2="784.05" stroke-opacity="0.069"/>
<line x1="381.10" y1="35.23" x2="572.10" y2="35.23" stroke-opacity="0.075"/>
<line x1="381.10" y1="44.36" x2="572.10" y2="44.36" stroke-opacity="0.009"/>
<line x1="381.10" y1="53.50" x2="572.10" y2="53.50" stroke-opacity="0.009"/>
<line x1="381.10" y1="62.63" x2="572.10" y2="62.63" stroke-opacity="0.057"/>
<line x1="381.10" y1="71.76" x2="572.10" y2="71.76" stroke-opacity="0.057"/>
<line x1="381.10" y1="80.89" x2="572.10" y2="80.89" stroke-opacity="0.009"/>
<line x1="381.10" y1="90.02" x2="572.10" y2="90.02" stroke-opacity="0.009"/>
<line x1="381.10" y1="99.16" x2="572.10" y2="99.16" stroke-opacity="0.075"/>
<line x1="381.10" y1="108.29" x2="572.10" y2="108.29" stroke-opacity="0.009"/>
<line x1="381.10" y1="117.42" x2="572.10" y2="117.42" stroke-opacity="0.009"/>
<line x1="381.10" y1="126.55" x2="572.10" y2="126.55" stroke-opacity="0.057"/>
<line x1="381.10" y1="135.68" x2="572.10" y2="135.68" stroke-opacity="0.057"/>
<line x1="381.10" y1="144.82" x2="572.10" y2="144.82" stroke-opacity="0.009"/>
<line x1="381.10" y1="153.95" x2="572.10" y2="153.95" stroke-opacity="0.009"/>
<line x1="381.10" y1="163.08" x2="572.10" y2="163.08" stroke-opacity="0.075"/>
<line x1="381.10" y1="172.21" x2="572.10" y2="172.21" stroke-opacity="0.009"/>
<line x1="381.10" y1="181.34" x2="572.10" y2="181.34" stroke-opacity="0.009"/>
<line x1="381.10" y1="190.47" x2="572.10" y2="190.47" stroke-opacity="0.057"/>
<line x1="381.10" y1="199.61" x2="572.10" y2="199.61" stroke-opacity="0.057"/>
<line x1="381.10" y1="208.74" x2="572.10" y2="208.74" stroke-opacity="0.009"/>
<line x1="381.10" y1="217.87" x2="572.10" y2="217.87" stroke-opacity="0.009"/>
<line x1="381.10" y1="227.00" x2="572.10" y2="227.00" stroke-opacity="0.075"/>
<line x1="381.10" y1="236.13" x2="572.10" y2="236.13" stroke-opacity="0.009"/>
<line x1="381.10" y1="245.27" x2="572.10" y2="245.27" stroke-opacity="0.009"/>
<line x1="381.10" y1="254.40" x2="572.10" y2="254.40" stroke-opacity="0.057"/>
<line x1="381.10" y1="263.53" x2="572.10" y2="263.53" stroke-opacity="0.057"/>
<line x1="381.10" y1="272.66" x2="572.10" y2="272.66" stroke-opacity="0.009"/>
<line x1="381.10" y1="281.79" x2="572.10" y2="281.79" stroke-opacity="0.009"/>
<line x1="381.10" y1="290.93" x2="572.10" y2="290.93" stroke-opacity="0.075"/>
<line x1="381.10" y1="300.06" x2="572.10" y2="300.06" stroke-opacity="0.009"/>
<line x1="381.10" y1="309.19" x2="572.10" y2="309.19" stroke-opacity="0.009"/>
<line x1="381.10" y1="318.32" x2="572.10" y2="318.32" stroke-opacity="0.057"/>
<line x1="381.10" y1="327.45" x2="572.10" y2="327.45" stroke-opacity="0.057"/>
<line x1="381.10" y1="336.59" x2="572.10" y2="336.59" stroke-opacity="0.009"/>
<line x1="381.10" y1="345.72" x2="572.10" y2="345.72" stroke-opacity="0.009"/>
<line x1="381.10" y1="354.85" x2="572.10" y2="354.85" stroke-opacity="0.075"/>
<line x1="381.10" y1="363.98" x2="572.10" y2="363.98" stroke-opacity="0.009"/>
<line x1="381.10" y1="373.11" x2="572.10" y2="373.11" stroke-opacity="0.009"/>
<line x1="381.10" y1="382.25" x2="572.10" y2="382.25" stroke-opacity="0.057"/>
<line x1="381.10" y1="391.38" x2="572.10" y2="391.38" stroke-opacity="0.057"/>
<line x1="381.10" y1="400.51" x2="572.10" y2="400.51" stroke-opacity="0.009"/>
<line x1="381.10" y1="409.64" x2="572.10" y2="409.64" stroke-opacity="0.009"/>
<line x1="381.10" y1="418.77" x2="572.10" y2="418.77" stroke-opacity="0.075"/>
<line x1="381.10" y1="427.90" x2="572.10" y2="427.90" stroke-opacity="0.009"/>
<line x1="381.10" y1="437.04" x2="572.10" y2="437.04" stroke-opacity="0.009"/>
<line x1="381.10" y1="446.17" x2="572.10" y2="446.17" stroke-opacity="0.057"/>
<line x1="381.10" y1="455.30" x2="572.10" y2="455.30" stroke-opacity="0.057"/>
<line x1="381.10" y1="464.43" x2="572.10" y2="464.43" stroke-opacity="0.009"/>
<line x1="381.10" y1="473.56" x2="572.10" y2="473.56" stroke-opacity="0.009"/>
<line x1="381.10" y1="482.70" x2="572.10" y2="482.70" stroke-opacity="0.075"/>
<line x1="381.10" y1="491.83" x2="572.10" y2="491.83" stroke-opacity="0.009"/>
<line x1="381.10" y1="500.96" x2="572.10" y2="500.96" stroke-opacity="0.009"/>
<line x1="381.10" y1="510.09" x2="572.10" y2="510.09" stroke-opacity="0.057"/>
<line x1="381.10" y1="519.22" x2="572.10" y2="519.22" stroke-opacity="0.057"/>
<line x1="381.10" y1="528.36" x2="572.10" y2="528.36" stroke-opacity="0.009"/>
<line x1="381.10" y1="537.49" x2="572.10" y2="537.49" stroke-opacity="0.009"/>
<line x1="381.10" y1="546.62" x2="572.10" y2="546.62" stroke-opacity="0.075"/>
<line x1="381.10" y1="555.75" x2="572.10" y2="555.75" stroke-opacity="0.009"/>
<line x1="381.10" y1="564.88" x2="572.10" y2="564.88" stroke-opacity="0.009"/>
<line x1="381.10" y1="574.02" x2="572.10" y2="574.02" stroke-opacity="0.057"/>
<line x1="381.10" y1="583.15" x2="572.10" y2="583.15" stroke-opacity="0.057"/>
<line x1="381.10" y1="592.28" x2="572.10" y2="592.28" stroke-opacity="0.009"/>
<line x1="381.10" y1="601.41" x2="572.10" y2="601.41" stroke-opacity="0.009"/>
<line x1="381.10" y1="610.54" x2="572.10" y2="610.54" stroke-opacity="0.075"/>
<line x1="381.10" y1="619.68" x2="572.10" y2="619.68" stroke-opacity="0.009"/>
<line x1="381.10" y1="628.81" x2="572.10" y2="628.81" stroke-opacity="0.009"/>
<line x1="381.10" y1="637.94" x2="572.10" y2="637.94" stroke-opacity="0.057"/>
<line x1="381.10" y1="647.07" x2="572.10" y2="647.07" stroke-opacity="0.057"/>
<line x1="381.10" y1="656.20" x2="572.10" y2="656.20" stroke-opacity="0.009"/>
<line x1="381.10" y1="665.33" x2="572.10" y2="665.33" stroke-opacity="0.009"/>
<line x1="381.10" y1="674.47" x2="572.10" y2="674.47" stroke-opacity="0.075"/>
<line x1="381.10" y1="683.60" x2="572.10" y2="683.60" stroke-opacity="0.009"/>
<line x1="381.10" y1="692.73" x2="572.10" y2="692.73" stroke-opacity="0.009"/>
<line x1="381.10" y1="701.86" x2="572.10" y2="701.86" stroke-opacity="0.057"/>
<line x1="381.10" y1="710.99" x2="572.10" y2="710.99" stroke-opacity="0.057"/>
<line x1="381.10" y1="720.13" x2="572.10" y2="720.13" stroke-opacity="0.009"/>
<line x1="381.10" y1="729.26" x2="572.10" y2="729.26" stroke-opacity="0.009"/>
<line x1="381.10" y1="738.39" x2="572.10" y2="738.39" stroke-opacity="0.075"/>
<line x1="381.10" y1="747.52" x2="572.10" y2="747.52" stroke-opacity="0.009"/>
<line x1="381.10" y1="756.65" x2="572.10" y2="756.65" stroke-opacity="0.009"/>
<line x1="381.10" y1="765.79" x2="572.10" y2="765.79" stroke-opacity="0.057"/>
<line x1="381.10" y1="774.92" x2="572.10" y2="774.92" stroke-opacity="0.057"/>
</g>
<g class="tk">
<line x1="377.80" y1="26.10" x2="381.40" y2="26.10"/>
<line x1="377.80" y1="35.23" x2="381.40" y2="35.23"/>
<line x1="377.80" y1="44.36" x2="381.40" y2="44.36"/>
<line x1="377.80" y1="53.50" x2="381.40" y2="53.50"/>
<line x1="377.80" y1="62.63" x2="381.40" y2="62.63"/>
<line x1="377.80" y1="71.76" x2="381.40" y2="71.76"/>
<line x1="377.80" y1="80.89" x2="381.40" y2="80.89"/>
<line x1="377.80" y1="90.02" x2="381.40" y2="90.02"/>
<line x1="377.80" y1="99.16" x2="381.40" y2="99.16"/>
<line x1="377.80" y1="108.29" x2="381.40" y2="108.29"/>
<line x1="377.80" y1="117.42" x2="381.40" y2="117.42"/>
<line x1="377.80" y1="126.55" x2="381.40" y2="126.55"/>
<line x1="377.80" y1="135.68" x2="381.40" y2="135.68"/>
<line x1="377.80" y1="144.82" x2="381.40" y2="144.82"/>
<line x1="377.80" y1="153.95" x2="381.40" y2="153.95"/>
<line x1="377.80" y1="163.08" x2="381.40" y2="163.08"/>
<line x1="377.80" y1="172.21" x2="381.40" y2="172.21"/>
<line x1="377.80" y1="181.34" x2="381.40" y2="181.34"/>
<line x1="377.80" y1="190.47" x2="381.40" y2="190.47"/>
<line x1="377.80" y1="199.61" x2="381.40" y2="199.61"/>
<line x1="377.80" y1="208.74" x2="381.40" y2="208.74"/>
<line x1="377.80" y1="217.87" x2="381.40" y2="217.87"/>
<line x1="377.80" y1="227.00" x2="381.40" y2="227.00"/>
<line x1="377.80" y1="236.13" x2="381.40" y2="236.13"/>
<line x1="377.80" y1="245.27" x2="381.40" y2="245.27"/>
<line x1="377.80" y1="254.40" x2="381.40" y2="254.40"/>
<line x1="377.80" y1="263.53" x2="381.40" y2="263.53"/>
<line x1="377.80" y1="272.66" x2="381.40" y2="272.66"/>
<line x1="377.80" y1="281.79" x2="381.40" y2="281.79"/>
<line x1="377.80" y1="290.93" x2="381.40" y2="290.93"/>
<line x1="377.80" y1="300.06" x2="381.40" y2="300.06"/>
<line x1="377.80" y1="309.19" x2="381.40" y2="309.19"/>
<line x1="377.80" y1="318.32" x2="381.40" y2="318.32"/>
<line x1="377.80" y1="327.45" x2="381.40" y2="327.45"/>
<line x1="377.80" y1="336.59" x2="381.40" y2="336.59"/>
<line x1="377.80" y1="345.72" x2="381.40" y2="345.72"/>
<line x1="377.80" y1="354.85" x2="381.40" y2="354.85"/>
<line x1="377.80" y1="363.98" x2="381.40" y2="363.98"/>
<line x1="377.80" y1="373.11" x2="381.40" y2="373.11"/>
<line x1="377.80" y1="382.25" x2="381.40" y2="382.25"/>
<line x1="377.80" y1="391.38" x2="381.40" y2="391.38"/>
<line x1="377.80" y1="400.51" x2="381.40" y2="400.51"/>
<line x1="377.80" y1="409.64" x2="381.40" y2="409.64"/>
<line x1="377.80" y1="418.77" x2="381.40" y2="418.77"/>
<line x1="377.80" y1="427.90" x2="381.40" y2="427.90"/>
<line x1="377.80" y1="437.04" x2="381.40" y2="437.04"/>
<line x1="377.80" y1="446.17" x2="381.40" y2="446.17"/>
<line x1="377.80" y1="455.30" x2="381.40" y2="455.30"/>
<line x1="377.80" y1="464.43" x2="381.40" y2="464.43"/>
<line x1="377.80" y1="473.56" x2="381.40" y2="473.56"/>
<line x1="377.80" y1="482.70" x2="381.40" y2="482.70"/>
<line x1="377.80" y1="491.83" x2="381.40" y2="491.83"/>
<line x1="377.80" y1="500.96" x2="381.40" y2="500.96"/>
<line x1="377.80" y1="510.09" x2="381.40" y2="510.09"/>
<line x1="377.80" y1="519.22" x2="381.40" y2="519.22"/>
<line x1="377.80" y1="528.36" x2="381.40" y2="528.36"/>
<line x1="377.80" y1="537.49" x2="381.40" y2="537.49"/>
<line x1="377.80" y1="546.62" x2="381.40" y2="546.62"/>
<line x1="377.80" y1="555.75" x2="381.40" y2="555.75"/>
<line x1="377.80" y1="564.88" x2="381.40" y2="564.88"/>
<line x1="377.80" y1="574.02" x2="381.40" y2="574.02"/>
<line x1="377.80" y1="583.15" x2="381.40" y2="583.15"/>
<line x1="377.80" y1="592.28" x2="381.40" y2="592.28"/>
<line x1="377.80" y1="601.41" x2="381.40" y2="601.41"/>
<line x1="377.80" y1="610.54" x2="381.40" y2="610.54"/>
<line x1="377.80" y1="619.68" x2="381.40" y2="619.68"/>
<line x1="377.80" y1="628.81" x2="381.40" y2="628.81"/>
<line x1="377.80" y1="637.94" x2="381.40" y2="637.94"/>
<line x1="377.80" y1="647.07" x2="381.40" y2="647.07"/>
<line x1="377.80" y1="656.20" x2="381.40" y2="656.20"/>
<line x1="377.80" y1="665.33" x2="381.40" y2="665.33"/>
<line x1="377.80" y1="674.47" x2="381.40" y2="674.47"/>
<line x1="377.80" y1="683.60" x2="381.40" y2="683.60"/>
<line x1="377.80" y1="692.73" x2="381.40" y2="692.73"/>
<line x1="377.80" y1="701.86" x2="381.40" y2="701.86"/>
<line x1="377.80" y1="710.99" x2="381.40" y2="710.99"/>
<line x1="377.80" y1="720.13" x2="381.40" y2="720.13"/>
<line x1="377.80" y1="729.26" x2="381.40" y2="729.26"/>
<line x1="377.80" y1="738.39" x2="381.40" y2="738.39"/>
<line x1="377.80" y1="747.52" x2="381.40" y2="747.52"/>
<line x1="377.80" y1="756.65" x2="381.40" y2="756.65"/>
<line x1="377.80" y1="765.79" x2="381.40" y2="765.79"/>
<line x1="377.80" y1="774.92" x2="381.40" y2="774.92"/>
<line x1="386.72" y1="784.05" x2="386.72" y2="787.35"/>
<line x1="397.95" y1="784.05" x2="397.95" y2="787.35"/>
<line x1="409.19" y1="784.05" x2="409.19" y2="787.35"/>
<line x1="420.42" y1="784.05" x2="420.42" y2="787.35"/>
<line x1="431.66" y1="784.05" x2="431.66" y2="787.35"/>
<line x1="442.89" y1="784.05" x2="442.89" y2="787.35"/>
<line x1="454.13" y1="784.05" x2="454.13" y2="787.35"/>
<line x1="465.36" y1="784.05" x2="465.36" y2="787.35"/>
<line x1="476.60" y1="784.05" x2="476.60" y2="787.35"/>
<line x1="487.84" y1="784.05" x2="487.84" y2="787.35"/>
<line x1="499.07" y1="784.05" x2="499.07" y2="787.35"/>
<line x1="510.31" y1="784.05" x2="510.31" y2="787.35"/>
<line x1="521.54" y1="784.05" x2="521.54" y2="787.35"/>
<line x1="532.78" y1="784.05" x2="532.78" y2="787.35"/>
<line x1="544.01" y1="784.05" x2="544.01" y2="787.35"/>
<line x1="555.25" y1="784.05" x2="555.25" y2="787.35"/>
<line x1="566.48" y1="784.05" x2="566.48" y2="787.35"/>
</g>
<g class="tl" text-anchor="end">
<text x="375.20" y="28.60">ADNI-01</text>
<text x="375.20" y="37.73">ADNI-02</text>
<text x="375.20" y="46.86">ADNI-03</text>
<text x="375.20" y="56.00">ADNI-04</text>
<text x="375.20" y="65.13">ADNI-05</text>
<text x="375.20" y="74.26">ADNI-06</text>
<text x="375.20" y="83.39">ADNI-08</text>
<text x="375.20" y="92.52">ADNI-10</text>
<text x="375.20" y="101.66">ADNI-11</text>
<text x="375.20" y="110.79">ADNI-12</text>
<text x="375.20" y="119.92">ADNI-13</text>
<text x="375.20" y="129.05">ADNI-15</text>
<text x="375.20" y="138.18">ADNI-16</text>
<text x="375.20" y="147.32" class="red">ADNI-19</text>
<text x="375.20" y="156.45">ADNI-20</text>
<text x="375.20" y="165.58">ADNI-21</text>
<text x="375.20" y="174.71" class="red">ADNI-23</text>
<text x="375.20" y="183.84">ADNI-24</text>
<text x="375.20" y="192.97">ADNI-26</text>
<text x="375.20" y="202.11">ADNI-27</text>
<text x="375.20" y="211.24">ADNI-28</text>
<text x="375.20" y="220.37">ADNI-33</text>
<text x="375.20" y="229.50">ADNI-34</text>
<text x="375.20" y="238.63">ADNI-37</text>
<text x="375.20" y="247.77">ADNI-38</text>
<text x="375.20" y="256.90">ADNI-39</text>
<text x="375.20" y="266.03">ADNI-40</text>
<text x="375.20" y="275.16">ADNI-41</text>
<text x="375.20" y="284.29">ADNI-42</text>
<text x="375.20" y="293.43">ADNI-43</text>
<text x="375.20" y="302.56">ADNI-44</text>
<text x="375.20" y="311.69">ADNI-47</text>
<text x="375.20" y="320.82">ADNI-49</text>
<text x="375.20" y="329.95">ADNI-50</text>
<text x="375.20" y="339.09">ADNI-51</text>
<text x="375.20" y="348.22">ADNI-52</text>
<text x="375.20" y="357.35" class="red">ADNI-54</text>
<text x="375.20" y="366.48">ADNI-55</text>
<text x="375.20" y="375.61">ADNI-58</text>
<text x="375.20" y="384.75">ADNI-59</text>
<text x="375.20" y="393.88">ADNI-60</text>
<text x="375.20" y="403.01">ADNI-61</text>
<text x="375.20" y="412.14">BIOCOG</text>
<text x="375.20" y="421.27">C-BIG</text>
<text x="375.20" y="430.40">CALGARY</text>
<text x="375.20" y="439.54">HAMBURG</text>
<text x="375.20" y="448.67">HMC</text>
<text x="375.20" y="457.80">JAPAN</text>
<text x="375.20" y="466.93">JGH</text>
<text x="375.20" y="476.06">MONTREAL</text>
<text x="375.20" y="485.20">MUC</text>
<text x="375.20" y="494.33">NEUROCON</text>
<text x="375.20" y="503.46">OASIS</text>
<text x="375.20" y="512.59">PPMI-10</text>
<text x="375.20" y="521.72">PPMI-12</text>
<text x="375.20" y="530.86">PPMI-13</text>
<text x="375.20" y="539.99">PPMI-14</text>
<text x="375.20" y="549.12">PPMI-15</text>
<text x="375.20" y="558.25">PPMI-16</text>
<text x="375.20" y="567.38">PPMI-17</text>
<text x="375.20" y="576.52">PPMI-18</text>
<text x="375.20" y="585.65">PPMI-19</text>
<text x="375.20" y="594.78">PPMI-20</text>
<text x="375.20" y="603.91">PPMI-21</text>
<text x="375.20" y="613.04">PPMI-22</text>
<text x="375.20" y="622.18">PPMI-23</text>
<text x="375.20" y="631.31">PPMI-25</text>
<text x="375.20" y="640.44">PPMI-26</text>
<text x="375.20" y="649.57">PPMI-27</text>
<text x="375.20" y="658.70">PPMI-28</text>
<text x="375.20" y="667.83">PPMI-29</text>
<text x="375.20" y="676.97">PPMI-30</text>
<text x="375.20" y="686.10" class="red">PPMI-51</text>
<text x="375.20" y="695.23">PPMI-52</text>
<text x="375.20" y="704.36">PPMI-53</text>
<text x="375.20" y="713.49">PPMI-55</text>
<text x="375.20" y="722.63">PPMI-59</text>
<text x="375.20" y="731.76">RUH</text>
<text x="375.20" y="740.89">SALD</text>
<text x="375.20" y="750.02">SBK</text>
<text x="375.20" y="759.15">TAOWU</text>
<text x="375.20" y="768.29">UKBB</text>
<text x="375.20" y="777.42">UOA</text>
</g>
<g class="tl xt" text-anchor="middle">
<text x="386.64" y="797.25">10</text>
<text x="397.87" y="797.25">11</text>
<text x="409.11" y="797.25">12</text>
<text x="420.34" y="797.25">13</text>
<text x="431.58" y="797.25">14</text>
<text x="442.81" y="797.25">15</text>
<text x="454.05" y="797.25">16</text>
<text x="465.28" y="797.25">17</text>
<text x="476.52" y="797.25">18</text>
<text x="487.76" y="797.25">19</text>
<text x="498.99" y="797.25">20</text>
<text x="510.23" y="797.25">21</text>
<text x="521.46" y="797.25">22</text>
<text x="532.70" y="797.25">23</text>
<text x="543.93" y="797.25">24</text>
<text x="555.17" y="797.25">25</text>
<text x="566.40" y="797.25">26</text>
</g>
<text class="lab" x="476.60" y="810.10" text-anchor="middle">Cycles</text>
<text class="ttl" x="477.30" y="20.60" text-anchor="middle">Revisit 2 - Error 3%</text>
<text class="lab" transform="translate(316.90 405.07) rotate(-90)" text-anchor="middle">Centers</text>
<defs><linearGradient id="cb" x1="0" y1="0" x2="0" y2="1"><stop offset="0.0000" stop-color="#2c3172"/><stop offset="0.0156" stop-color="#2c3373"/><stop offset="0.0312" stop-color="#2b3674"/><stop offset="0.0469" stop-color="#2b3975"/><stop offset="0.0625" stop-color="#2a3c77"/><stop offset="0.0781" stop-color="#2a3f78"/><stop offset="0.0938" stop-color="#29427a"/><stop offset="0.1094" stop-color="#28457c"/><stop offset="0.1250" stop-color="#27477d"/><stop offset="0.1406" stop-color="#254a7f"/><stop offset="0.1562" stop-color="#244d80"/><stop offset="0.1719" stop-color="#235081"/><stop offset="0.1875" stop-color="#225283"/><stop offset="0.2031" stop-color="#215584"/><stop offset="0.2188" stop-color="#205885"/><stop offset="0.2344" stop-color="#1f5b86"/><stop offset="0.2500" stop-color="#1e5d86"/><stop offset="0.2656" stop-color="#1d6087"/><stop offset="0.2812" stop-color="#1d6388"/><stop offset="0.2969" stop-color="#1c6589"/><stop offset="0.3125" stop-color="#1c6889"/><stop offset="0.3281" stop-color="#1d6a8a"/><stop offset="0.3438" stop-color="#1e6d8a"/><stop offset="0.3594" stop-color="#1f6f8a"/><stop offset="0.3750" stop-color="#20728b"/><stop offset="0.3906" stop-color="#22748b"/><stop offset="0.4062" stop-color="#24778b"/><stop offset="0.4219" stop-color="#27798c"/><stop offset="0.4375" stop-color="#297b8c"/><stop offset="0.4531" stop-color="#2c7e8c"/><stop offset="0.4688" stop-color="#2e808d"/><stop offset="0.4844" stop-color="#31828d"/><stop offset="0.5000" stop-color="#33858d"/><stop offset="0.5156" stop-color="#36878d"/><stop offset="0.5312" stop-color="#388a8e"/><stop offset="0.5469" stop-color="#3b8c8e"/><stop offset="0.5625" stop-color="#3e8e8e"/><stop offset="0.5781" stop-color="#40918f"/><stop offset="0.5938" stop-color="#43938f"/><stop offset="0.6094" stop-color="#45958f"/><stop offset="0.6250" stop-color="#48988f"/><stop offset="0.6406" stop-color="#4b9a8f"/><stop offset="0.6562" stop-color="#4e9d90"/><stop offset="0.6719" stop-color="#509f90"/><stop offset="0.6875" stop-color="#53a190"/><stop offset="0.7031" stop-color="#57a490"/><stop offset="0.7188" stop-color="#5aa690"/><stop offset="0.7344" stop-color="#5da890"/><stop offset="0.7500" stop-color="#61aa90"/><stop offset="0.7656" stop-color="#64ad90"/><stop offset="0.7812" stop-color="#68af90"/><stop offset="0.7969" stop-color="#6cb190"/><stop offset="0.8125" stop-color="#70b390"/><stop offset="0.8281" stop-color="#74b690"/><stop offset="0.8438" stop-color="#78b891"/><stop offset="0.8594" stop-color="#7dba91"/><stop offset="0.8750" stop-color="#81bc91"/><stop offset="0.8906" stop-color="#86be91"/><stop offset="0.9062" stop-color="#8ac091"/><stop offset="0.9219" stop-color="#8fc291"/><stop offset="0.9375" stop-color="#93c491"/><stop offset="0.9531" stop-color="#98c691"/><stop offset="0.9688" stop-color="#9cc891"/><stop offset="0.9844" stop-color="#a0cb91"/><stop offset="1.0000" stop-color="#a5cd90"/></linearGradient></defs>
<rect x="583.85" y="47.30" width="35.35" height="715.45" fill="url(#cb)"/>
<g class="tk">
<line x1="619.55" y1="762.75" x2="623.05" y2="762.75"/>
<line x1="619.55" y1="619.66" x2="623.05" y2="619.66"/>
<line x1="619.55" y1="476.57" x2="623.05" y2="476.57"/>
<line x1="619.55" y1="333.48" x2="623.05" y2="333.48"/>
<line x1="619.55" y1="190.39" x2="623.05" y2="190.39"/>
<line x1="619.55" y1="47.30" x2="623.05" y2="47.30"/>
</g>
<g class="tl cbt">
<text x="625.70" y="766.00">0.0</text>
<text x="625.70" y="622.91">0.2</text>
<text x="625.70" y="479.82">0.4</text>
<text x="625.70" y="336.73">0.6</text>
<text x="625.70" y="193.64">0.8</text>
<text x="625.70" y="50.55">1.0</text>
</g>
<text class="lab" transform="translate(651.40 405.02) rotate(-90)" text-anchor="middle">Proportion of harmful images</text>
</svg>
</body>
</html>
